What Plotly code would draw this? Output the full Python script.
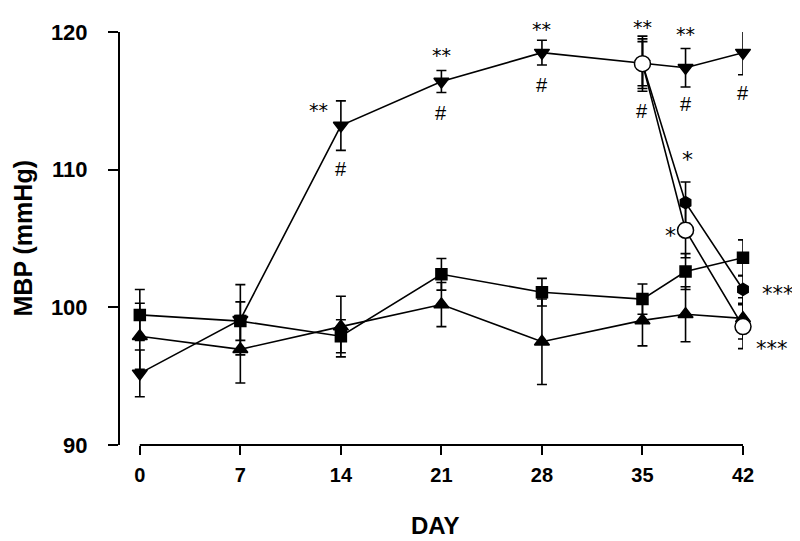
import plotly.graph_objects as go

# ---------------- data ----------------
days = [0, 7, 14, 21, 28, 35, 38, 42]
day_ticks = [0, 7, 14, 21, 28, 35, 42]
mbp_ticks = [90, 100, 110, 120]

# filled squares
sq_val = [99.45, 99.0, 97.9, 102.4, 101.1, 100.6, 102.6, 103.6]
sq_err = [1.85, 1.4, 1.2, 1.15, 1.0, 1.1, 1.3, 1.3]

# filled up-triangles
up_val = [97.9, 96.95, 98.6, 100.2, 97.5, 99.05, 99.5, 99.2]
up_err = [2.4, 2.45, 2.2, 1.6, 3.1, 1.85, 2.0, 1.5]

# filled down-triangles
dn_val = [95.2, 99.1, 113.2, 116.4, 118.5, 117.7, 117.4, 118.5]
dn_err = [1.7, 2.55, 1.8, 0.8, 0.9, 2.0, 1.4, 1.6]

# treated groups (from day 35)
tr_days = [35, 38, 42]
fc_val = [117.7, 107.6, 101.3]
fc_err = [1.8, 1.5, 1.0]
oc_val = [117.7, 105.6, 98.6]
oc_err = [1.6, 2.0, 1.6]

# significance labels on the down-triangle series
sig_days = [14, 21, 28, 35, 38, 42]
sig_up = ["**"] * 6
sig_dn = ["#"] * 6

# ---------------- figure ----------------
fig = go.Figure()
LW = 1.6


def add_series(x, y, e, symbol, size, fill="black"):
    fig.add_trace(go.Scatter(
        x=x, y=y, mode="lines+markers",
        line=dict(color="black", width=LW),
        marker=dict(symbol=symbol, size=size, color=fill,
                    line=dict(color="black", width=1.5)),
        error_y=dict(type="data", array=e, visible=True, color="black",
                     thickness=1.6, width=5),
        cliponaxis=False, showlegend=False,
    ))


add_series(days, sq_val, sq_err, "square", 11)
add_series(days, up_val, up_err, "triangle-up", 13)
add_series(days, dn_val, dn_err, "triangle-down", 13)
add_series(tr_days, fc_val, fc_err, "hexagon", 12)
add_series(tr_days, oc_val, oc_err, "circle", 16, fill="white")

STAR_FONT = dict(family="DejaVu Sans", size=19, color="black")
STAR3_FONT = dict(family="DejaVu Sans", size=21, color="black")
STAR1_FONT = dict(family="DejaVu Sans", size=22, color="black")
HASH_FONT = dict(family="Liberation Sans, Arial", size=20, color="black")
STAR_DY = -5  # glyph sits high in the line box
SANS = "Liberation Sans, Arial, sans-serif"

ann = []
up_shift = {14: (-22, -4), 21: (0, 21), 28: (0, 16), 35: (0, 14), 38: (0, 20), 42: (0, 13)}
dn_shift = {14: -19, 21: -20, 28: -20, 35: -20, 38: -17, 42: -18}
for d, t_up, t_dn in zip(sig_days, sig_up, sig_dn):
    i = days.index(d)
    xs, ys = up_shift[d]
    ann.append(dict(x=d, y=dn_val[i] + dn_err[i], text=t_up, showarrow=False,
                    xshift=xs, yshift=ys + STAR_DY, font=STAR_FONT))
    ann.append(dict(x=d, y=dn_val[i] - dn_err[i], text=t_dn, showarrow=False,
                    yshift=dn_shift[d], font=HASH_FONT))

# treated-group labels
ann.append(dict(x=38, y=fc_val[1] + fc_err[1], text="*", showarrow=False,
                xshift=2, yshift=28 + STAR_DY, font=STAR1_FONT))
ann.append(dict(x=38, y=oc_val[1], text="*", showarrow=False,
                xshift=-15, yshift=STAR_DY, font=STAR1_FONT))
ann.append(dict(x=42, y=fc_val[2], text="***", showarrow=False,
                xshift=35, yshift=STAR_DY, font=STAR3_FONT))
ann.append(dict(x=42, y=oc_val[2] - oc_err[2], text="***", showarrow=False,
                xshift=29, yshift=5 + STAR_DY, font=STAR3_FONT))

# axis titles
ann.append(dict(xref="paper", yref="paper", x=0, y=0.5, xshift=-98, text="MBP (mmHg)",
                textangle=-90, showarrow=False, xanchor="center", yanchor="middle",
                font=dict(family=SANS, size=25, weight="bold", color="black")))
ann.append(dict(xref="x", yref="paper", x=21, y=0, xshift=-6, yshift=-80, text="DAY",
                showarrow=False, xanchor="center", yanchor="middle",
                font=dict(family=SANS, size=24, weight="bold", color="black")))

# page body has an 8px margin: plot area spans x 120..743, y 25..445 on screen
fig.update_layout(
    width=800, height=541,
    margin=dict(l=112, r=65, t=17, b=104),
    paper_bgcolor="white", plot_bgcolor="white",
    annotations=ann,
    shapes=[dict(type="line", xref="x", yref="paper", x0=0, x1=42, y0=0, y1=0,
                 line=dict(color="black", width=2))],
)
fig.update_xaxes(
    range=[-1.38, 42], tickvals=day_ticks, ticktext=[str(t) for t in day_ticks],
    showline=False, showgrid=False, zeroline=False,
    ticks="outside", ticklen=9, tickwidth=2, tickcolor="black",
    ticklabelstandoff=3,
    tickfont=dict(family=SANS, size=20, weight="bold", color="black"),
)
fig.update_yaxes(
    range=[90, 120], tickvals=mbp_ticks, ticktext=[str(t) for t in mbp_ticks],
    showline=True, linewidth=2, linecolor="black",
    showgrid=False, zeroline=False,
    ticks="outside", ticklen=10, tickwidth=2, tickcolor="black",
    ticklabelstandoff=16,
    tickfont=dict(family=SANS, size=22, weight="bold", color="black"),
)

fig.write_html("out.html")
